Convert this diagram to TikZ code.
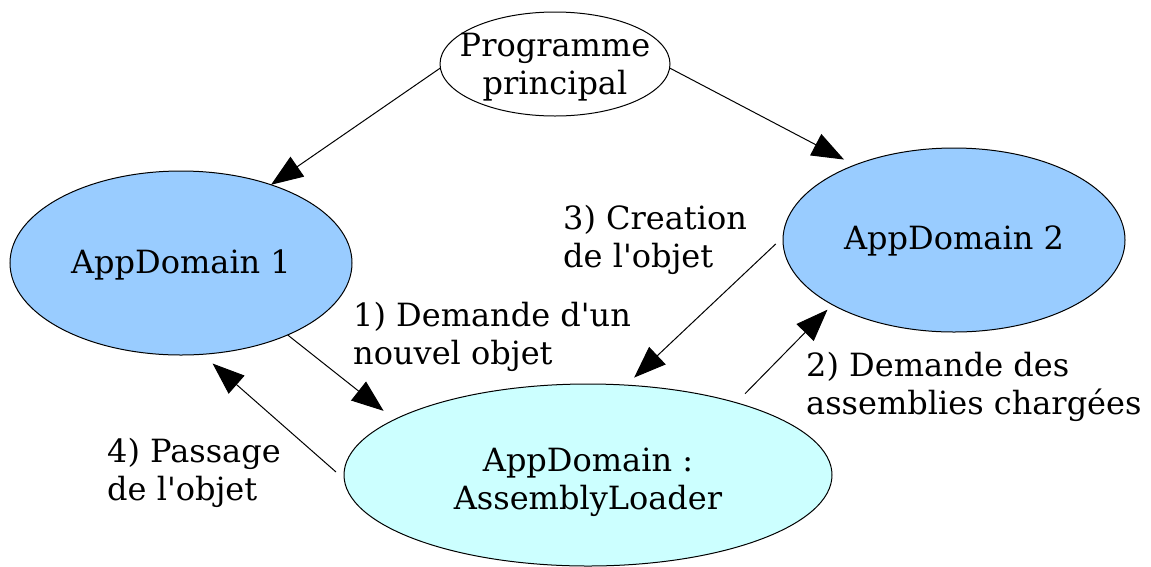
\documentclass[tikz,border=0pt]{standalone}
\usepackage{fontspec}
\setmainfont{DejaVu Serif}
\usetikzlibrary{arrows.meta,shapes.geometric}
\definecolor{domblue}{HTML}{99CCFF}
\definecolor{loadercyan}{HTML}{CCFFFF}
\newcommand{\apos}{\textquotesingle}
\begin{document}
\begin{tikzpicture}[x=1pt,y=1pt,
  every node/.style={font=\fontsize{32}{38}\selectfont},
  dom/.style={ellipse,draw,line width=1pt,inner sep=0pt,outer sep=0pt},
  caption/.style={align=center,inner sep=0pt},
  lbl/.style={anchor=west,align=left,inner sep=0pt},
  flow/.style={line width=1pt,-{Triangle[length=32pt,width=24pt]}}]
\useasboundingbox (0,0) rectangle (1151,-566);

% domains (fixed-size ellipses, captions placed over them)
\node[dom,minimum width=230pt,minimum height=104pt,
  label={[caption,yshift=-3pt]center:Programme\\principal}] (main) at (555,-64) {};
\node[dom,fill=domblue,minimum width=342pt,minimum height=184pt,
  label={[caption,yshift=-2pt]center:AppDomain 1}] (ad1) at (181,-263) {};
\node[dom,fill=domblue,minimum width=342pt,minimum height=184pt,
  label={[caption,yshift=-1pt]center:AppDomain 2}] (ad2) at (954,-240) {};
\node[dom,fill=loadercyan,minimum width=488pt,minimum height=182pt,
  label={[caption,yshift=-7pt]center:AppDomain :\\AssemblyLoader}] (loader) at (588,-475) {};

% step labels
\node[lbl] (l3) at (563,-240) {3) Creation\\de l\apos objet};
\node[lbl] (l1) at (353,-337) {1) Demande d\apos un\\nouvel objet};
\node[lbl] (l2) at (806,-387) {2) Demande des\\assemblies chargées};
\node[lbl] (l4) at (107,-473) {4) Passage\\de l\apos objet};

% connectors
\draw[flow] (main.182) -- (ad1.41);
\draw[flow,shorten >=12pt] (main.-2) -- (ad2.143);
\draw[flow,shorten >=14pt] (ad1.-34.5) -- (loader.164.7);
\draw[flow,shorten <=11pt,shorten >=14pt] (loader.181) -- (ad1.-77.1);
\draw[flow,shorten <=10pt,shorten >=11pt] (ad2.179.4) -- (loader.67.2);
\draw[flow,shorten <=12.7pt,shorten >=7pt] (loader.26.1) -- (ad2.-152);
\end{tikzpicture}
\end{document}
